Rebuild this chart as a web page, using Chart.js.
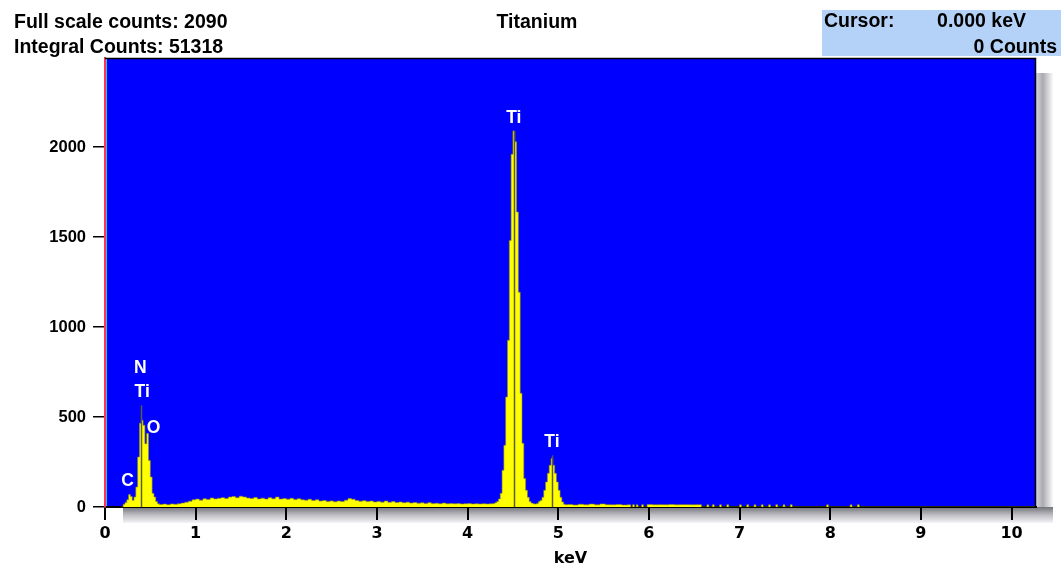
<!DOCTYPE html>
<html>
<head>
<meta charset="utf-8">
<script src="https://cdn.jsdelivr.net/npm/chart.js@4/dist/chart.umd.min.js"></script>
<style>
  html, body { margin: 0; padding: 0; background: #fff; }
  #wrap { width: 1061px; height: 569px; }
</style>
</head>
<body>
<div id="wrap"><canvas id="c" width="1061" height="569"></canvas></div>
<script>
// ---------- DATA (bin start energy in keV, counts per bin) ----------
const lowE = [0.18,0.20,0.22,0.24,0.26,0.28,0.30,0.32,0.34,0.36,
              0.38,0.40,0.42,0.44,0.46,0.48,0.50,0.52,0.54,0.56,0.58];
const lowC = [0,15,25,40,69,58,37,56,111,278,
              465,482,454,352,409,259,167,76,56,30,18];

const bgE = [0.60,0.64,0.68,0.72,0.76,0.80,0.84,0.88,0.92,0.96,
             1.00,1.04,1.08,1.12,1.16,1.20,1.24,1.28,1.32,1.36,
             1.40,1.44,1.48,1.52,1.56,1.60,1.64,1.68,1.72,1.76,
             1.80,1.84,1.88,1.92,1.96,2.00,2.04,2.08,2.12,2.16,
             2.20,2.24,2.28,2.32,2.36,2.40,2.44,2.48,2.52,2.56,
             2.60,2.64,2.68,2.72,2.76,2.80,2.84,2.88,2.92,2.96,
             3.00,3.04,3.08,3.12,3.16,3.20,3.24,3.28,3.32,3.36,
             3.40,3.44,3.48,3.52,3.56,3.60,3.64,3.68,3.72,3.76,
             3.80,3.84,3.88,3.92,3.96,4.00,4.04,4.08,4.12,4.16,
             4.20,4.24,4.28];
const bgC = [14,16,13,17,15,18,22,27,32,40,
             44,38,46,42,50,45,48,52,47,55,
             58,52,60,56,50,47,53,45,49,44,
             52,46,55,44,47,43,48,41,46,40,
             38,43,36,40,33,36,30,34,29,33,
             30,38,47,43,36,32,35,30,33,28,
             31,27,33,26,30,25,28,24,27,22,
             25,21,23,20,24,19,21,18,22,18,
             19,18,19,17,18,19,17,18,17,18,
             17,18,19];

const tiE = [4.30,4.32,4.34,4.36,4.38,4.40,4.42,4.44,4.46,4.48,
             4.50,4.52,4.54,4.56,4.58,4.60,4.62,4.64,4.66,4.68,
             4.70,4.72,4.74,4.76,4.78,4.80,4.82,4.84,4.86,4.88,
             4.90,4.92,4.94,4.96,4.98,5.00,5.02,5.04,5.06,5.08];
const tiC = [24,30,45,76,204,343,611,926,1481,1960,
             2090,2030,1639,1194,632,354,159,93,54,30,
             22,18,16,20,30,37,54,93,139,187,
             232,270,232,187,139,93,54,28,15,12];

const tailE = [5.10,5.16,5.22,5.28,5.34,5.40,5.46,5.52,5.58,5.64,5.70,
               5.76,5.80,5.82,5.84,5.86,5.88,5.92,5.94,5.98,6.04,
               6.10,6.16,6.22,6.28,6.34,6.40,6.46,6.52,6.58,6.64,
               6.66,6.70,6.72,6.78,6.80,6.86,6.88,7.00,7.02,7.08,
               7.10,7.16,7.18,7.24,7.26,7.32,7.34,7.40,7.42,7.48,
               7.50,7.56,7.58,7.96,7.98,8.22,8.24,8.30,8.32,10.26];
const tailC = [14,11,15,12,16,12,17,13,12,14,11,
               12,0,13,0,12,0,13,0,14,12,
               13,12,14,12,13,13,12,13,0,12,
               0,13,0,12,0,13,0,12,0,13,
               0,12,0,13,0,12,0,13,0,12,
               0,13,0,12,0,12,0,13,0,0];

// x / y tick labels
const xTicks = [0,1,2,3,4,5,6,7,8,9,10];
const yTicks = [0,500,1000,1500,2000];

// peak markers and labels
const markerE   = [0.397, 4.51, 4.93];
const markerTop = [565, 2090, 287];
const peakText   = ['C', 'Ti', 'N', 'O', 'Ti', 'Ti'];
const peakE      = [0.25, 0.41, 0.39, 0.535, 4.51, 4.93];
const peakAnchor = [69, 565, 565, 365, 2090, 287];
const peakRow    = [0, 0, 1, 0, 0, 0];

// ---------- build ----------
const energy = [...lowE, ...bgE, ...tiE, ...tailE];
const counts = [...lowC, ...bgC, ...tiC, ...tailC];
const points = energy.map((e, i) => ({ x: e, y: counts[i] }));

const HEAD = 'bold 19.5px "Liberation Sans"';

const deco = {
  id: 'deco',
  beforeDraw(chart) {
    const { ctx, chartArea: a } = chart;
    ctx.save();
    ctx.fillStyle = '#ffffff';
    ctx.fillRect(0, 0, chart.width, chart.height);
    // drop shadow (right strip)
    let g = ctx.createLinearGradient(a.right, 0, a.right + 17, 0);
    g.addColorStop(0, 'rgb(214,214,220)');
    g.addColorStop(0.4, 'rgb(170,170,178)');
    g.addColorStop(1, 'rgb(250,250,250)');
    ctx.fillStyle = g;
    ctx.fillRect(a.right, a.top + 15, 17, a.bottom - a.top);
    // drop shadow (bottom strip)
    g = ctx.createLinearGradient(0, a.bottom, 0, a.bottom + 16);
    g.addColorStop(0, 'rgb(115,115,122)');
    g.addColorStop(0.5, 'rgb(190,190,196)');
    g.addColorStop(1, 'rgb(245,245,248)');
    ctx.fillStyle = g;
    ctx.fillRect(a.left + 18, a.bottom, a.right - a.left - 1, 16);
    // plot background
    ctx.fillStyle = '#0000ff';
    ctx.fillRect(a.left, a.top, a.right - a.left, a.bottom - a.top);
    // cursor box
    ctx.fillStyle = '#b4d2f8';
    ctx.fillRect(822, 10, 239, 46);
    ctx.restore();
  },
  afterDatasetsDraw(chart) {
    const { ctx } = chart;
    const xs = chart.scales.x, ys = chart.scales.y;
    ctx.save();
    ctx.strokeStyle = '#5c5c30';
    ctx.lineWidth = 1.5;
    markerE.forEach((e, i) => {
      const x = Math.round(xs.getPixelForValue(e)) + 0.5;
      ctx.beginPath();
      ctx.moveTo(x, ys.getPixelForValue(0));
      ctx.lineTo(x, ys.getPixelForValue(markerTop[i]));
      ctx.stroke();
    });
    ctx.fillStyle = '#ffffff';
    ctx.font = 'bold 17.5px "Liberation Sans"';
    ctx.textAlign = 'center';
    ctx.textBaseline = 'middle';
    peakText.forEach((t, i) => {
      const x = xs.getPixelForValue(peakE[i]);
      const y = ys.getPixelForValue(peakAnchor[i]) - 13 - 24 * peakRow[i];
      ctx.fillText(t, x, y);
    });
    ctx.restore();
  },
  afterDraw(chart) {
    const { ctx, chartArea: a } = chart;
    ctx.save();
    // frame top/right
    ctx.strokeStyle = '#000';
    ctx.lineWidth = 1.5;
    ctx.beginPath();
    ctx.moveTo(a.left, a.top + 0.5);
    ctx.lineTo(a.right - 0.5, a.top + 0.5);
    ctx.lineTo(a.right - 0.5, a.bottom);
    ctx.stroke();
    // cyan inner line next to the red left axis
    ctx.strokeStyle = '#22c8c8';
    ctx.lineWidth = 1;
    ctx.beginPath();
    ctx.moveTo(a.left + 1.5, a.top + 1);
    ctx.lineTo(a.left + 1.5, a.bottom - 1);
    ctx.stroke();
    // header texts
    ctx.fillStyle = '#000';
    ctx.font = HEAD;
    ctx.textBaseline = 'alphabetic';
    ctx.textAlign = 'left';
    ctx.fillText('Full scale counts: 2090', 14, 28);
    ctx.fillText('Integral Counts: 51318', 14, 53);
    ctx.fillText('Cursor:', 824, 27);
    ctx.textAlign = 'center';
    ctx.fillText('Titanium', 537, 28);
    ctx.textAlign = 'right';
    ctx.fillText('0.000 keV', 1026, 27);
    ctx.fillText('0 Counts', 1057, 53);
    ctx.restore();
  }
};

new Chart(document.getElementById('c'), {
  type: 'line',
  data: {
    datasets: [{
      data: points,
      stepped: true,
      fill: 'origin',
      backgroundColor: '#ffff00',
      borderColor: 'rgba(140,140,20,0.6)',
      borderWidth: 1,
      pointRadius: 0
    }]
  },
  options: {
    responsive: false,
    animation: false,
    devicePixelRatio: 1,
    layout: { padding: { top: 58, right: 25, left: 0, bottom: 0 } },
    plugins: { legend: { display: false }, tooltip: { enabled: false } },
    scales: {
      x: {
        type: 'linear', min: 0, max: 10.27, z: 1,
        afterBuildTicks: ax => { ax.ticks = xTicks.map(v => ({ value: v })); },
        afterFit: ax => { ax.height = 62; },
        ticks: { color: '#000', autoSkip: false, maxRotation: 0, padding: 4,
                 callback: v => String(v),
                 font: { family: 'DejaVu Sans', weight: 'bold', size: 16 } },
        grid: { display: true, drawOnChartArea: false, drawTicks: true, tickLength: 13,
                color: '#000', lineWidth: 2 },
        border: { display: true, color: '#000', width: 2 },
        title: { display: true, text: 'keV', color: '#000', padding: { top: 0, bottom: 1 },
                 font: { family: 'DejaVu Sans', weight: 'bold', size: 16 } }
      },
      y: {
        type: 'linear', min: 0, max: 2495, z: 1,
        afterBuildTicks: ax => { ax.ticks = yTicks.map(v => ({ value: v })); },
        afterFit: ax => { ax.width = 105; },
        ticks: { color: '#000', padding: 7,
                 callback: v => String(v),
                 font: { family: 'Liberation Sans', weight: 'bold', size: 16.5 } },
        grid: { display: true, drawOnChartArea: false, drawTicks: true, tickLength: 12,
                color: '#000', lineWidth: 1.5 },
        border: { display: true, color: '#ff3355', width: 2 }
      }
    }
  },
  plugins: [deco]
});
</script>
</body>
</html>
